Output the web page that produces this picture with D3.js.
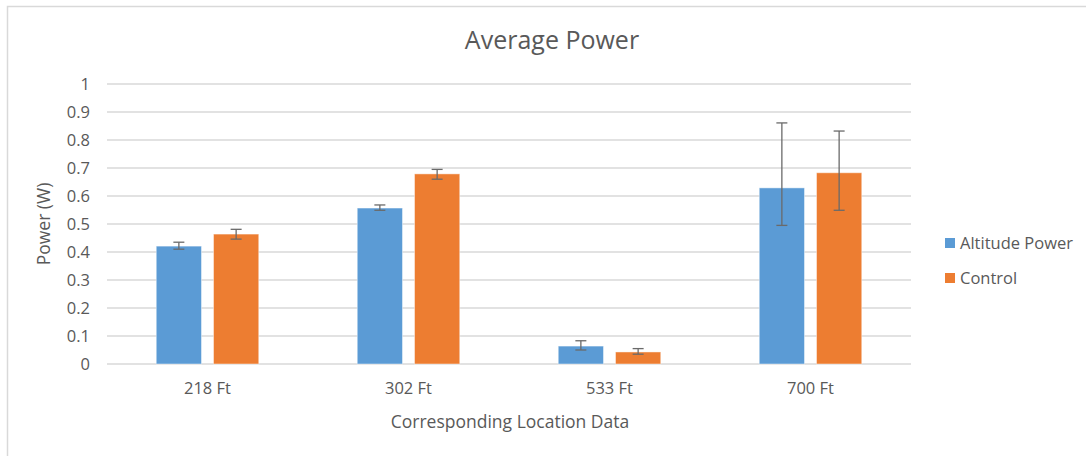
<!DOCTYPE html>
<html>
<head>
<meta charset="utf-8">
<script src="https://cdn.jsdelivr.net/npm/d3@7"></script>
<style>
  html, body { margin: 0; padding: 0; background: #fff; }
  svg { display: block; font-family: "Open Sans", "Liberation Sans", sans-serif; }
</style>
</head>
<body>
<svg id="chart" width="1086" height="456"></svg>
<script>
const categories = ["218 Ft", "302 Ft", "533 Ft", "700 Ft"];
const seriesNames = ["Altitude Power", "Control"];
const altitudeValues = [0.421, 0.557, 0.064, 0.629];
const controlValues = [0.464, 0.679, 0.043, 0.683];
const altitudeErrPlus = [0.014, 0.011, 0.019, 0.232];
const altitudeErrMinus = [0.011, 0.008, 0.014, 0.134];
const controlErrPlus = [0.017, 0.016, 0.012, 0.149];
const controlErrMinus = [0.018, 0.019, 0.008, 0.134];
const yTicks = [0, 0.1, 0.2, 0.3, 0.4, 0.5, 0.6, 0.7, 0.8, 0.9, 1];
const colors = ["#5B9BD5", "#ED7D31"];

const svg = d3.select("#chart");
const textColor = "#595959";

// outer chart border (only top/left visible)
svg.append("rect").attr("x", 7.5).attr("y", 6.5).attr("width", 1200).attr("height", 600)
  .attr("fill", "none").attr("stroke", "#d9d9d9").attr("stroke-width", 1.5);

const plot = { left: 107, right: 911, top: 84, bottom: 364 };

const y = d3.scaleLinear().domain([0, 1]).range([plot.bottom, plot.top]);
const x0 = d3.scaleBand().domain(categories).range([plot.left, plot.right])
  .paddingInner(0.49).paddingOuter(0.245);
const x1 = d3.scaleBand().domain(seriesNames).range([0, x0.bandwidth()]).paddingInner(0.21);

// gridlines
const grid = svg.append("g");
grid.selectAll("line").data(yTicks).join("line")
  .attr("x1", plot.left).attr("x2", plot.right)
  .attr("y1", d => y(d)).attr("y2", d => y(d))
  .attr("stroke", "#d9d9d9").attr("stroke-width", 1.3);

// y axis labels
const yAxis = d3.axisLeft(y).tickValues(yTicks).tickSize(0).tickPadding(17).tickFormat(d3.format("~g"));
const yg = svg.append("g").attr("transform", `translate(${plot.left},0)`).call(yAxis);
yg.select(".domain").remove();
yg.selectAll("text").attr("fill", textColor).attr("font-size", 16.5)
  .attr("font-family", "'Open Sans', sans-serif");

// x axis labels
const xAxis = d3.axisBottom(x0).tickSize(0).tickPadding(18);
const xg = svg.append("g").attr("transform", `translate(0,${plot.bottom})`).call(xAxis);
xg.select(".domain").remove();
xg.selectAll("text").attr("fill", textColor).attr("font-size", 16.5)
  .attr("font-family", "'Open Sans', sans-serif");

// data rows
const rows = categories.map((c, i) => ({
  cat: c,
  vals: [
    { s: seriesNames[0], v: altitudeValues[i], ep: altitudeErrPlus[i], em: altitudeErrMinus[i], c: colors[0] },
    { s: seriesNames[1], v: controlValues[i], ep: controlErrPlus[i], em: controlErrMinus[i], c: colors[1] }
  ]
}));

const groups = svg.append("g").selectAll("g").data(rows).join("g")
  .attr("transform", d => `translate(${x0(d.cat)},0)`);

groups.selectAll("rect").data(d => d.vals).join("rect")
  .attr("x", d => x1(d.s))
  .attr("width", x1.bandwidth())
  .attr("y", d => y(d.v))
  .attr("height", d => y(0) - y(d.v))
  .attr("fill", d => d.c)
  .attr("stroke", "rgba(255,255,255,0.45)").attr("stroke-width", 1);

// error bars
const eb = groups.selectAll("g.err").data(d => d.vals).join("g").attr("class", "err");
const errColor = "#6a6a6a";
const cap = 5.5;
eb.append("line")
  .attr("x1", d => x1(d.s) + x1.bandwidth() / 2).attr("x2", d => x1(d.s) + x1.bandwidth() / 2)
  .attr("y1", d => y(d.v + d.ep)).attr("y2", d => y(d.v - d.em))
  .attr("stroke", errColor).attr("stroke-width", 1.3);
eb.append("line")
  .attr("x1", d => x1(d.s) + x1.bandwidth() / 2 - cap).attr("x2", d => x1(d.s) + x1.bandwidth() / 2 + cap)
  .attr("y1", d => y(d.v + d.ep)).attr("y2", d => y(d.v + d.ep))
  .attr("stroke", errColor).attr("stroke-width", 1.3);
eb.append("line")
  .attr("x1", d => x1(d.s) + x1.bandwidth() / 2 - cap).attr("x2", d => x1(d.s) + x1.bandwidth() / 2 + cap)
  .attr("y1", d => y(d.v - d.em)).attr("y2", d => y(d.v - d.em))
  .attr("stroke", errColor).attr("stroke-width", 1.3);

// title
svg.append("text").attr("x", 552).attr("y", 49).attr("text-anchor", "middle")
  .attr("font-size", 25).attr("fill", textColor).text("Average Power");

// axis titles
svg.append("text").attr("x", 510).attr("y", 428).attr("text-anchor", "middle")
  .attr("font-size", 17.5).attr("fill", textColor).text("Corresponding Location Data");
svg.append("text").attr("transform", "translate(50,224) rotate(-90)").attr("text-anchor", "middle")
  .attr("font-size", 17.5).attr("fill", textColor).text("Power (W)");

// legend
const legend = svg.append("g").selectAll("g").data(seriesNames).join("g")
  .attr("transform", (d, i) => `translate(945,${238 + i * 35})`);
legend.append("rect").attr("width", 10).attr("height", 10).attr("fill", (d, i) => colors[i]);
legend.append("text").attr("x", 15).attr("y", 10.5).attr("font-size", 16.5).attr("fill", textColor).text(d => d);
</script>
</body>
</html>
